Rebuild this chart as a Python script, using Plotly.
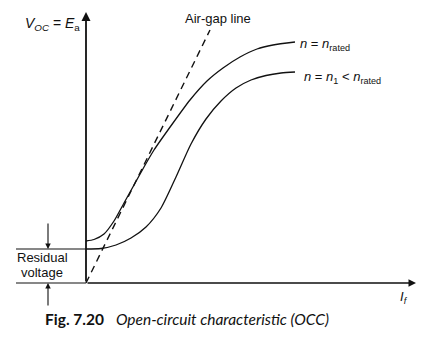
import plotly.graph_objects as go

# Open-circuit characteristic (field current If vs. generated EMF), diagram units
if_rated = [0, 8, 18, 28, 38, 48, 58, 68, 87, 104, 121, 137, 154, 171, 187, 209]
v_rated = [42, 43.5, 49, 62, 80, 98, 116, 133, 160, 183, 202, 215, 226, 234, 238, 241]

if_n1 = [0, 15, 30, 45, 60, 75, 90, 105, 120, 135, 150, 165, 180, 195, 209]
v_n1 = [34, 34.5, 38, 45, 56, 75, 106, 139, 164, 182, 195, 203, 207.5, 210, 211]

if_airgap = [0, 124]
v_airgap = [0, 253]

residual_v = 34

BLACK = "#111111"
FONT = "Liberation Sans, Arial, sans-serif"

fig = go.Figure()
fig.add_trace(go.Scatter(x=if_rated, y=v_rated, mode="lines", line=dict(color=BLACK, width=1.3, shape="spline", smoothing=0.6), hoverinfo="skip"))
fig.add_trace(go.Scatter(x=if_n1, y=v_n1, mode="lines", line=dict(color=BLACK, width=1.3, shape="spline", smoothing=0.7), hoverinfo="skip"))
fig.add_trace(go.Scatter(x=if_airgap, y=v_airgap, mode="lines", line=dict(color=BLACK, width=1.4, dash="7px,5px"), hoverinfo="skip"))

# residual voltage reference lines
fig.add_trace(go.Scatter(x=[-70, 0], y=[residual_v, residual_v], mode="lines", line=dict(color=BLACK, width=1.2), hoverinfo="skip"))
fig.add_trace(go.Scatter(x=[-70, 0], y=[0, 0], mode="lines", line=dict(color=BLACK, width=1.2), hoverinfo="skip"))

ann = []
# axes with arrows
ann.append(dict(x=0, y=271, ax=0, ay=0, xref="x", yref="y", axref="x", ayref="y", showarrow=True,
                arrowhead=2, arrowsize=1, arrowwidth=1.8, arrowcolor=BLACK, text=""))
ann.append(dict(x=330, y=0, ax=0, ay=0, xref="x", yref="y", axref="x", ayref="y", showarrow=True,
                arrowhead=2, arrowsize=1, arrowwidth=1.5, arrowcolor=BLACK, text=""))
# residual arrows
ann.append(dict(x=-38, y=residual_v, ax=-38, ay=residual_v + 27, xref="x", yref="y", axref="x", ayref="y", showarrow=True,
                arrowhead=2, arrowsize=1, arrowwidth=1.1, arrowcolor=BLACK, text=""))
ann.append(dict(x=-38, y=0, ax=-38, ay=-24, xref="x", yref="y", axref="x", ayref="y", showarrow=True,
                arrowhead=2, arrowsize=1, arrowwidth=1.1, arrowcolor=BLACK, text=""))

def txt(x, y, text, size=13, xanchor="center", family=FONT):
    ann.append(dict(x=x, y=y, xref="x", yref="y", text=text, showarrow=False, xanchor=xanchor, yanchor="middle",
                    font=dict(family=family, size=size, color=BLACK)))

txt(-34, 259, "<i>V</i><sub><i>OC</i></sub> = <i>E</i><sub>a</sub>", size=14)
txt(97, 265, "Air-gap line", size=13, xanchor="left")
txt(212, 239, "<i>n</i> = <i>n</i><sub>rated</sub>", size=13, xanchor="left")
txt(216, 206, "<i>n</i> = <i>n</i><sub>1</sub> &lt; <i>n</i><sub>rated</sub>", size=13, xanchor="left")
txt(-44, 26, "Residual", size=13)
txt(-44, 11, "voltage", size=13)
txt(318, -14, "<i>I</i><sub><i>f</i></sub>", size=13)
txt(-43, -36, "<b>Fig. 7.20</b>   <i>Open-circuit characteristic (OCC)</i>", size=15.5, xanchor="left",
    family="Lato, Open Sans, sans-serif")

fig.update_layout(
    width=422, height=338,
    margin=dict(l=0, r=0, t=0, b=0),
    paper_bgcolor="white", plot_bgcolor="white",
    showlegend=False,
    xaxis=dict(range=[-86, 336], visible=False, fixedrange=True),
    yaxis=dict(range=[-55, 283], visible=False, fixedrange=True),
    annotations=ann,
)

fig.write_html("out.html")
